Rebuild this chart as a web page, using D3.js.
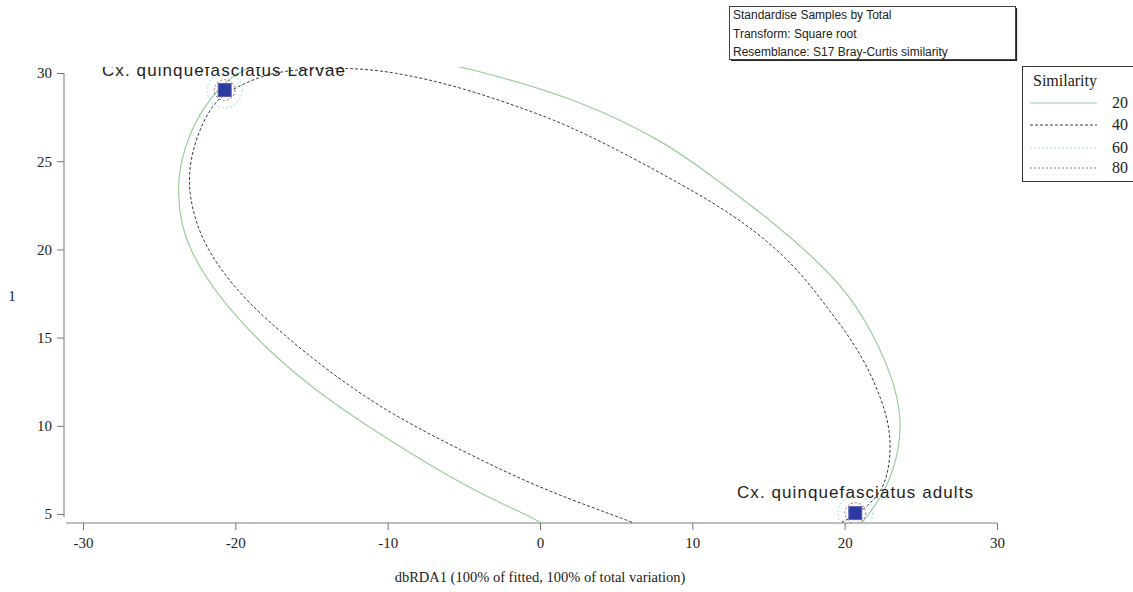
<!DOCTYPE html>
<html>
<head>
<meta charset="utf-8">
<script src="https://cdn.jsdelivr.net/npm/d3@7"></script>
<style>
  body { margin: 0; background: #fff; }
  svg { display: block; }
</style>
</head>
<body>
<svg id="chart"></svg>
<script>
var WIDTH = 1133, HEIGHT = 592;

// samples (dbRDA1, axis 2)
var sampleNames = ["Cx. quinquefasciatus Larvae", "Cx. quinquefasciatus adults"];
var sampleX = [-20.7, 20.7];
var sampleY = [29.03, 5.05];

var xTicks = [-30, -20, -10, 0, 10, 20, 30];
var yTicks = [5, 10, 15, 20, 25, 30];

// similarity levels for the legend
var simLevels = [20, 40, 60, 80];

// 20% contour (data units)
var contour20 = [
  [1.64, 3.53], [0.20, 4.55], [-3.08, 5.79], [-6.36, 7.32], [-10.69, 9.59],
  [-15.08, 12.20], [-17.84, 14.30], [-19.41, 15.71], [-20.85, 17.13], [-22.03, 18.55],
  [-22.95, 19.97], [-23.54, 21.38], [-23.80, 23.20], [-23.61, 25.07], [-22.62, 27.34],
  [-21.51, 28.70], [-20.85, 29.27], [-19.80, 30.18], [-15.74, 31.2], [-9.18, 31.12],
  [-3.93, 30.12], [2.62, 28.47], [8.33, 26.04], [11.34, 24.11], [15.74, 21.28],
  [19.02, 18.67], [20.79, 16.86], [22.75, 13.73], [23.74, 10.90], [23.61, 8.63],
  [22.75, 6.36], [21.44, 4.83], [20.66, 3.98]
];

// 40% contour
var contour40 = [
  [7.54, 3.98], [6.10, 4.55], [0.20, 6.36], [-5.25, 8.63], [-10.69, 11.07],
  [-15.08, 13.90], [-16.92, 15.26], [-18.56, 16.51], [-19.87, 17.70], [-20.92, 18.83],
  [-21.77, 19.97], [-22.49, 21.27], [-22.95, 22.80], [-23.08, 24.11], [-22.75, 26.04],
  [-21.44, 28.48], [-19.87, 29.22], [-18.23, 29.85], [-16.39, 30.19], [-12.66, 30.31],
  [-9.64, 30.08], [-5.25, 29.22], [-0.85, 27.92], [2.62, 26.77], [9.18, 23.77],
  [13.57, 21.50], [16.85, 19.00], [18.82, 16.74], [20.98, 14.30], [22.49, 11.46],
  [23.15, 9.20], [22.75, 6.53], [21.44, 5.40], [20.52, 4.83], [19.67, 4.49], [19.02, 4.09]
];

// 60% and 80% contours are small rings round each sample (radius in x units)
var ringLevels = [60, 80];
var ringRadius = [1.15, 0.68];

var infoLines = ["Standardise Samples by Total", "Transform: Square root", "Resemblance: S17 Bray-Curtis similarity"];

var levelStyle = {
  20: { stroke: "#98cf98", dash: null, width: 1.2 },
  40: { stroke: "#3a3a44", dash: "3,2", width: 1 },
  60: { stroke: "#b5e2ec", dash: "2,2", width: 1.2 },
  80: { stroke: "#a2667e", dash: "2,2", width: 1 }
};

var svg = d3.select("#chart").attr("width", WIDTH).attr("height", HEIGHT);

var x = d3.scaleLinear().domain([-30, 30]).range([83, 997]);
var y = d3.scaleLinear().domain([5, 30]).range([514, 73]);

var serif = "'Liberation Serif', 'DejaVu Serif', serif";
var sans = "'Liberation Sans', Arial, sans-serif";

// axes
var yAxis = svg.append("g").attr("transform", "translate(64,0)")
  .call(d3.axisLeft(y).tickValues(yTicks).tickSize(7).tickPadding(5).tickFormat(String));
yAxis.select(".domain").attr("d", "M0,73V517");
var xAxis = svg.append("g").attr("transform", "translate(0,523)")
  .call(d3.axisBottom(x).tickValues(xTicks).tickSize(7).tickPadding(7).tickFormat(String));
xAxis.select(".domain").attr("d", "M66,0H997");
svg.selectAll(".domain").attr("stroke", "#a8a8a8").attr("stroke-width", 1.5);
svg.selectAll(".tick line").attr("stroke", "#777");
svg.selectAll(".tick text").attr("font-family", serif).attr("font-size", 15).attr("fill", "#222");

svg.append("text").attr("x", 540).attr("y", 582).attr("text-anchor", "middle")
  .attr("font-family", serif).attr("font-size", 14.5).attr("fill", "#222")
  .text("dbRDA1 (100% of fitted, 100% of total variation)");
svg.append("text").attr("x", 12).attr("y", 301).attr("text-anchor", "middle")
  .attr("font-family", serif).attr("font-size", 15).attr("fill", "#222").text("1");

// plot clip
svg.append("clipPath").attr("id", "plotclip").append("rect")
  .attr("x", 66).attr("y", 67).attr("width", 940).attr("height", 456);
var plot = svg.append("g").attr("clip-path", "url(#plotclip)");

var line = d3.line().x(function(d) { return x(d[0]); }).y(function(d) { return y(d[1]); })
  .curve(d3.curveBasis);

[[20, contour20], [40, contour40]].forEach(function(c) {
  var st = levelStyle[c[0]];
  plot.append("path").datum(c[1]).attr("d", line)
    .attr("fill", "none").attr("stroke", st.stroke).attr("stroke-width", st.width)
    .attr("stroke-dasharray", st.dash);
});

sampleX.forEach(function(sx, i) {
  ringLevels.forEach(function(lv, j) {
    var st = levelStyle[lv];
    plot.append("circle").attr("cx", x(sx)).attr("cy", y(sampleY[i]))
      .attr("r", x(ringRadius[j]) - x(0))
      .attr("fill", "none").attr("stroke", st.stroke).attr("stroke-width", st.width)
      .attr("stroke-dasharray", st.dash);
  });
});

plot.selectAll("rect.pt").data(sampleX).enter().append("rect").attr("class", "pt")
  .attr("x", function(d) { return x(d) - 6.5; })
  .attr("y", function(d, i) { return y(sampleY[i]) - 6.5; })
  .attr("width", 13).attr("height", 13)
  .attr("fill", "#2b3aa0").attr("stroke", "#5560a8").attr("stroke-width", 1);

// sample labels
var labelPos = [[102, 76, 243], [737, 498, 236]];
plot.selectAll("text.lab").data(sampleNames).enter().append("text").attr("class", "lab")
  .attr("x", function(d, i) { return labelPos[i][0]; })
  .attr("y", function(d, i) { return labelPos[i][1]; })
  .attr("textLength", function(d, i) { return labelPos[i][2]; })
  .attr("font-family", sans).attr("font-size", 17).attr("fill", "#1e1e1e")
  .text(function(d) { return d; });

// info box
svg.append("rect").attr("x", 729.5).attr("y", 6.5).attr("width", 286).attr("height", 53)
  .attr("fill", "#fff").attr("stroke", "#444").attr("stroke-width", 1);
svg.append("path").attr("d", "M731,60.5H1016.5V8").attr("fill", "none").attr("stroke", "#222").attr("stroke-width", 1.2);
svg.selectAll("text.info").data(infoLines).enter().append("text").attr("class", "info")
  .attr("x", 733).attr("y", function(d, i) { return 19 + i * 18.5; })
  .attr("font-family", sans).attr("font-size", 12).attr("fill", "#222")
  .text(function(d) { return d; });

// similarity legend
svg.append("rect").attr("x", 1022.5).attr("y", 66.5).attr("width", 120).attr("height", 115)
  .attr("fill", "#fff").attr("stroke", "#333").attr("stroke-width", 1);
svg.append("text").attr("x", 1033).attr("y", 86).attr("font-family", serif)
  .attr("font-size", 16).attr("fill", "#222").text("Similarity");
var leg = svg.selectAll("g.leg").data(simLevels).enter().append("g").attr("class", "leg")
  .attr("transform", function(d, i) { return "translate(0," + [103, 125, 148, 168][i] + ")"; });
leg.append("line").attr("x1", 1030).attr("x2", 1097)
  .attr("stroke", function(d) { return levelStyle[d].stroke; })
  .attr("stroke-width", function(d) { return levelStyle[d].width; })
  .attr("stroke-dasharray", function(d) { return levelStyle[d].dash; });
leg.append("text").attr("x", 1128).attr("y", 5).attr("text-anchor", "end")
  .attr("font-family", serif).attr("font-size", 16).attr("fill", "#222")
  .text(function(d) { return d; });
</script>
</body>
</html>
